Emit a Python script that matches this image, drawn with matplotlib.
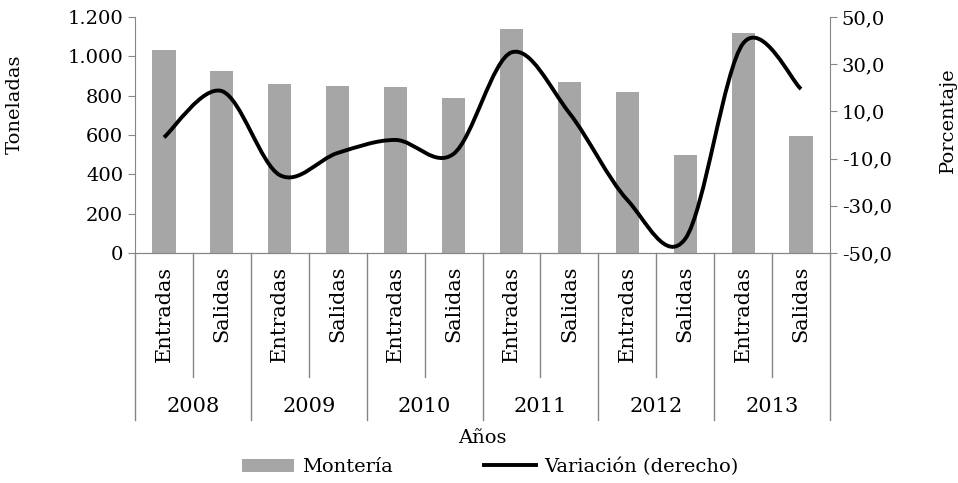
import matplotlib
matplotlib.use("Agg")
import matplotlib.pyplot as plt
from matplotlib.path import Path
from matplotlib.patches import PathPatch, Patch
from matplotlib.lines import Line2D
from matplotlib.transforms import blended_transform_factory
from matplotlib.ticker import FuncFormatter, FixedLocator
import numpy as np

years = ["2008", "2009", "2010", "2011", "2012", "2013"]
subcats = ["Entradas", "Salidas"]
monteria = [1030, 925, 860, 848, 843, 790, 1140, 870, 818, 500, 1120, 595]
variacion = [-1.0, 18.6, -17.0, -7.6, -2.1, -8.0, 35.0, 9.3, -27.5, -44.0, 38.8, 19.5]

plt.rcParams['font.family'] = ['DejaVu Serif']
FS = 14
FS_CAT = 15
GRAY_AX = "#868686"
BAR_C = "#a6a6a6"

fig = plt.figure(figsize=(9.58, 4.83), dpi=100)
L, R, T, B = 135/958, 830/958, 1-17/483, 1-253/483
ax = fig.add_axes([L, B, R-L, T-B])
ax2 = ax.twinx()

n = len(monteria)
x = np.arange(n)
ax.bar(x, monteria, width=0.4, color=BAR_C, zorder=2)
ax.set_xlim(-0.5, n-0.5)
ax.set_ylim(0, 1200)
ax.yaxis.set_major_locator(FixedLocator(np.arange(0, 1201, 200)))
ax.yaxis.set_major_formatter(FuncFormatter(lambda v, p: f"{int(v):,}".replace(",", ".")))
ax2.set_ylim(-50, 50)
ax2.yaxis.set_major_locator(FixedLocator(np.arange(-50, 51, 20)))
ax2.yaxis.set_major_formatter(FuncFormatter(lambda v, p: f"{v:.1f}".replace(".", ",")))

for a in (ax, ax2):
    for s in a.spines.values():
        s.set_color(GRAY_AX)
    a.spines['top'].set_visible(False)
    a.tick_params(axis='y', colors=GRAY_AX, labelcolor='black', labelsize=FS, length=5, direction='out')
ax.tick_params(axis='x', bottom=False, labelbottom=False)
ax2.spines['left'].set_visible(False)
ax.spines['right'].set_visible(False)

# smooth line (Bezier, Catmull-Rom style control points)
pts = np.column_stack([x, variacion]).astype(float)
verts = [pts[0]]
codes = [Path.MOVETO]
for i in range(n-1):
    p0 = pts[i-1] if i > 0 else pts[i]
    p1 = pts[i]
    p2 = pts[i+1]
    p3 = pts[i+2] if i+2 < n else pts[i+1]
    c1 = p1 + (p2 - p0)/6
    c2 = p2 - (p3 - p1)/6
    verts += [c1, c2, p2]
    codes += [Path.CURVE4]*3
ax2.add_patch(PathPatch(Path(verts, codes), facecolor='none', edgecolor='black', lw=2.8, zorder=3, capstyle='butt'))

# category axis
tr = blended_transform_factory(ax.transData, ax.transAxes)
h = 236.0
y_inner = -(377-253)/h
y_outer = -(420-253)/h
for k in range(n+1):
    bx = k - 0.5
    yend = y_outer if k % 2 == 0 else y_inner
    ax.add_line(Line2D([bx, bx], [0, yend], transform=tr, color=GRAY_AX, lw=1, clip_on=False))
for i in range(n):
    ax.text(i, -(266-253)/h, subcats[i % 2], transform=tr, rotation=90, ha='center', va='top', fontsize=FS_CAT)
for j, yr in enumerate(years):
    ax.text(2*j+0.5, -(406-253)/h, yr, transform=tr, ha='center', va='center', fontsize=FS_CAT)
ax.text(0.5, -(438-253)/h, "Años", transform=ax.transAxes, ha='center', va='center', fontsize=FS)

fig.text(15/958, 1-104/483, "Toneladas", rotation=90, ha='center', va='center', fontsize=FS)
fig.text(948/958, 1-120/483, "Porcentaje", rotation=90, ha='center', va='center', fontsize=FS)

handles = [Patch(facecolor=BAR_C, edgecolor='none'), Line2D([], [], color='black', lw=2.8)]
fig.legend(handles, ["Montería", "Variación (derecho)"], loc='center', bbox_to_anchor=(490/958, 1-467/483),
           ncol=2, frameon=False, fontsize=FS, handlelength=2.7, handletextpad=0.4, columnspacing=4.7,
           handleheight=0.7, borderpad=0)

fig.savefig("out.png", dpi=100)
